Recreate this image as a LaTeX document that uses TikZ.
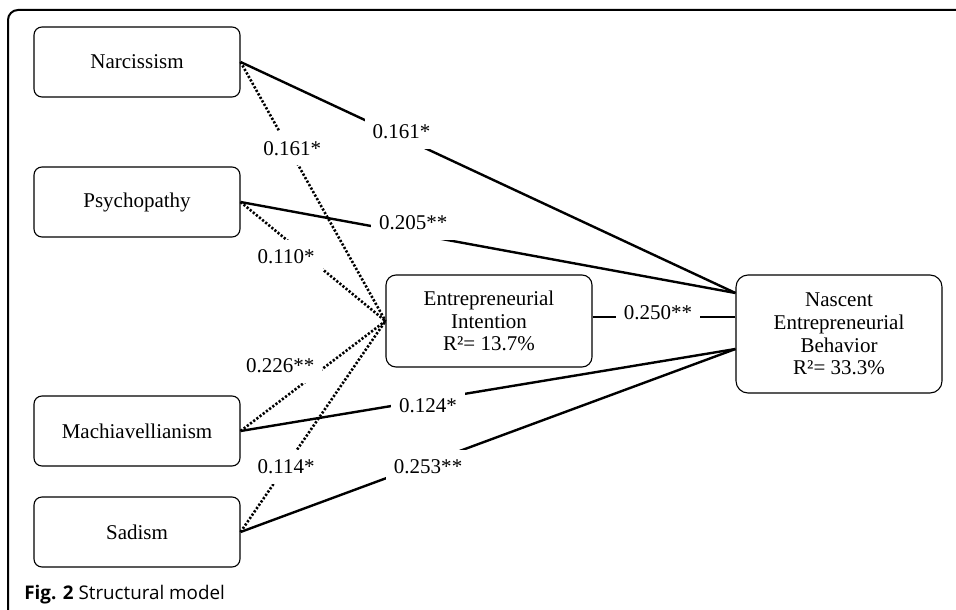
\documentclass[tikz,border=0pt]{standalone}
\usepackage{fontspec}
\setmainfont{Liberation Serif}
\newfontfamily\captionfont{Open Sans}

\begin{document}
\begin{tikzpicture}[x=0.5pt, y=-0.5pt,
    box/.style={draw, line width=0.55pt, rounded corners=4pt, inner sep=0pt,
      minimum width=103pt, minimum height=35pt, align=center,
      font=\fontsize{10.5}{11.3}\selectfont},
    direct/.style={line width=1.2pt},
    indirect/.style={line width=1.3pt, dash pattern=on 1.1pt off 0.9pt},
    coef/.style={fill=white, inner xsep=4pt, inner ysep=5pt,
      font=\fontsize{10.5}{11.3}\selectfont}]
   \useasboundingbox (0, 0) rectangle (956, 609) ;
   \draw[line width=1pt, rounded corners=5pt] (962, 10) -- (8, 10) -- (8, 615) ;

   \node [box] (narc) at (137, 62) {Narcissism} ;
   \node [box] (psych) at (137, 202) {Psychopathy} ;
   \node [box] (mach) at (137, 431) {Machiavellianism} ;
   \node [box] (sad) at (137, 532) {Sadism} ;
   \node [box, minimum height=46pt, rounded corners=5pt] (ei) at (489, 321)
     {Entrepreneurial\\Intention\\R²= 13.7\%} ;
   \node [box, minimum height=59pt, rounded corners=6pt] (neb) at (839, 334)
     {Nascent\\Entrepreneurial\\Behavior\\R²= 33.3\%} ;

   \coordinate (nebhi) at ([yshift=20.5pt]neb.west) ;
   \coordinate (neblo) at ([yshift=-7.5pt]neb.west) ;
   \coordinate (eiout) at ([yshift=2pt]ei.east) ;
   \coordinate (nebmid) at (eiout -| neb.west) ;

   \draw [indirect] (narc.east) -- node [coef, pos=.356, yshift=3pt] {0.161*} (ei.west) ;
   \draw [indirect] (psych.east) -- node [coef, pos=.315, yshift=-8.7pt] {0.110*} (ei.west) ;
   \draw [indirect] (mach.east) -- node [coef, pos=.274, yshift=17.5pt] {0.226**} (ei.west) ;
   \draw [indirect] (sad.east) -- node [coef, pos=.315, yshift=-0.7pt] {0.114*} (ei.west) ;

   \draw [direct] (narc.east) -- node [coef, pos=.325, yshift=2.5pt] {0.161*} (nebhi) ;
   \draw [direct] (psych.east) -- node [coef, pos=.349, yshift=5.3pt] {0.205**} (nebhi) ;
   \draw [direct] (mach.east) -- node [coef, pos=.379, yshift=-3pt] {0.124*} (neblo) ;
   \draw [direct] (sad.east) -- node [coef, pos=.379, yshift=-2.2pt] {0.253**} (neblo) ;
   \draw [direct] (eiout) -- node [coef, pos=.458, yshift=2pt] {0.250**} (nebmid) ;

   \node [anchor=base west, inner sep=0pt, font=\captionfont\fontsize{9.4}{12}\selectfont]
     (caption) at (24, 599) {\textbf{Fig. 2} Structural model} ;
\end{tikzpicture}
\end{document}
